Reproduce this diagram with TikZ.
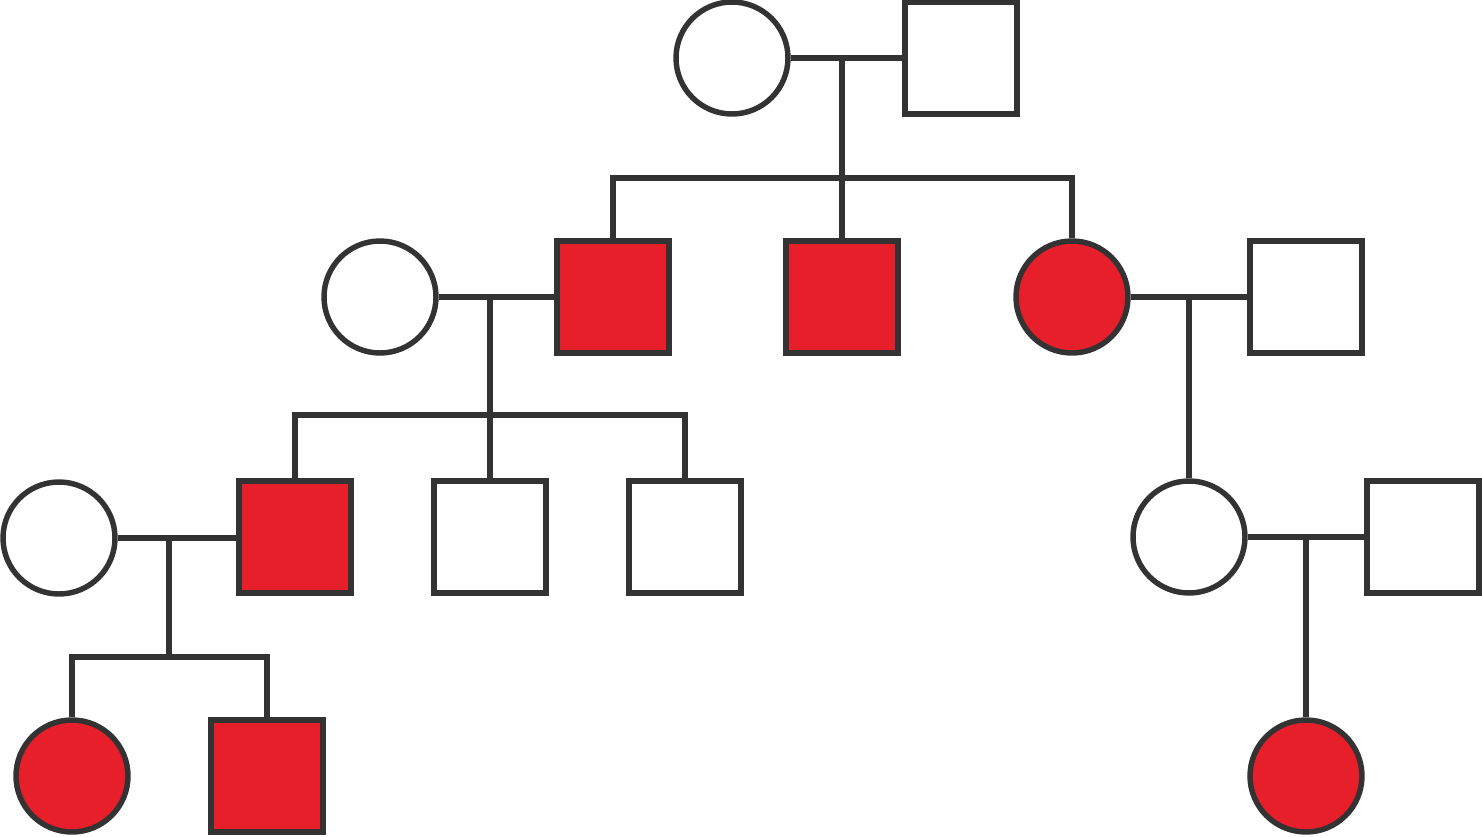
\documentclass[tikz,border=0pt]{standalone}
\definecolor{ink}{HTML}{333333}
\definecolor{aff}{HTML}{E61F2B}
\begin{document}
\begin{tikzpicture}[x=0.02cm,y=-0.02cm,
  fem/.style={circle,draw=ink,line width=3.1pt,minimum size=2.24cm,inner sep=0pt,fill=white},
  mal/.style={rectangle,draw=ink,line width=3.1pt,minimum size=2.24cm,inner sep=0pt,fill=white},
  affected/.style={fill=aff},
  link/.style={draw=ink,line width=3pt}]
\useasboundingbox (0,0) rectangle (1482,836);
% Generation I
\node[fem] (Ia) at (732,58) {};
\node[mal] (Ib) at (961,58) {};
% Generation II
\node[fem] (IIa) at (380,297) {};
\node[mal,affected] (IIb) at (613,297) {};
\node[mal,affected] (IIc) at (842,297) {};
\node[fem,affected] (IId) at (1072,297) {};
\node[mal] (IIe) at (1306,297) {};
% Generation III
\node[fem] (IIIa) at (59,538) {};
\node[mal,affected] (IIIb) at (295,537) {};
\node[mal] (IIIc) at (490,537) {};
\node[mal] (IIId) at (685,537) {};
\node[fem] (IIIe) at (1189,537) {};
\node[mal] (IIIf) at (1423,537) {};
% Generation IV
\node[fem,affected] (IVa) at (72,776) {};
\node[mal,affected] (IVb) at (267,776) {};
\node[fem,affected] (IVc) at (1306,776) {};
% junctions
\coordinate (m1) at (842,58);
\coordinate (s1) at (842,178);
\coordinate (m2) at (490,297);
\coordinate (s2) at (490,415);
\coordinate (m3) at (1189,297);
\coordinate (m4) at (169,539);
\coordinate (s4) at (169,657);
\coordinate (m5) at (1306,537);
% connectors
\draw[link] (Ia.east) -- (Ib.west);
\draw[link] (m1) -- (s1);
\draw[link] (IIb.north) |- (s1) -| (IId.north);
\draw[link] (s1) -- (IIc.north);
\draw[link] (IIa.east) -- (IIb.west);
\draw[link] (m2) -- (s2);
\draw[link] (IIIb.north) |- (s2) -| (IIId.north);
\draw[link] (s2) -- (IIIc.north);
\draw[link] (IId.east) -- (IIe.west);
\draw[link] (m3) -- (IIIe.north);
\draw[link] (IIIa.east) -- (IIIa.east -| IIIb.west);
\draw[link] (m4) -- (s4);
\draw[link] (IVa.north) |- (s4) -| (IVb.north);
\draw[link] (IIIe.east) -- (IIIf.west);
\draw[link] (m5) -- (IVc.north);
\end{tikzpicture}
\end{document}
